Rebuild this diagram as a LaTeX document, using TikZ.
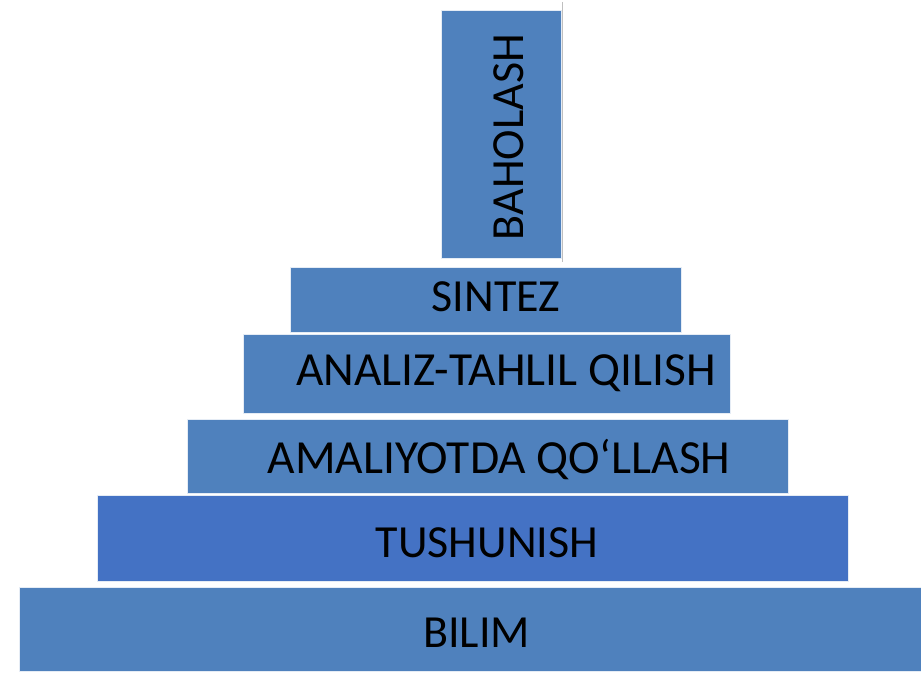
\documentclass[tikz,border=0pt]{standalone}
\usepackage{fontspec}
\setmainfont{Carlito}
\definecolor{boxblue}{HTML}{4F81BD}
\definecolor{midblue}{HTML}{4472C4}
\begin{document}
\begin{tikzpicture}[x=1pt,y=-1pt,
  level/.style={fill=boxblue, draw=white!85!boxblue, line width=0.8pt},
  lbl/.style={font=\fontsize{46}{46}\selectfont, text=black, inner sep=0pt, anchor=base},
  biglbl/.style={lbl, font=\fontsize{47.5}{47.5}\selectfont}]
\useasboundingbox (0,0) rectangle (921,677);
% boxes
\draw[level] (441,10) rectangle (561,258);
\draw[gray!50, line width=0.6pt] (562,2) -- (562,262);
\draw[level] (290,267) rectangle (681,332);
\draw[level] (243,334) rectangle (730,413);
\draw[level] (187,419) rectangle (788,493);
\draw[level, fill=midblue] (97,495) rectangle (848,581);
\draw[level] (19,587) rectangle (925,671);
% labels
\node[lbl, rotate=90] (baholash) at (523,137) {BAHOLASH};
\node[lbl] (sintez) at (496,311) {SINTEZ};
\node[biglbl] (analiz) at (506,385) {ANALIZ-TAHLIL QILISH};
\node[biglbl] (amaliy) at (499,473) {AMALIYOTDA QO‘LLASH};
\node[lbl] (tushun) at (487,557) {TUSHUNISH};
\node[lbl] (bilim) at (476.5,647) {BILIM};
\end{tikzpicture}
\end{document}
